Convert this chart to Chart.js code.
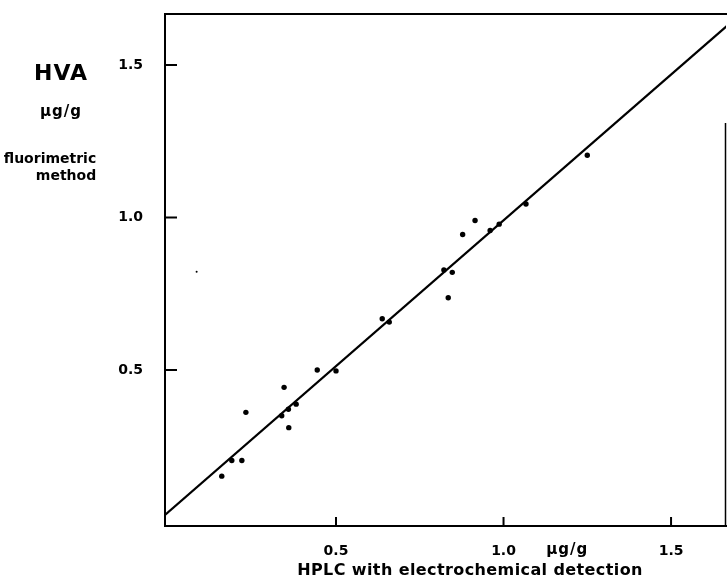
<!DOCTYPE html>
<html>
<head>
<meta charset="utf-8">
<script src="https://cdn.jsdelivr.net/npm/chart.js@4/dist/chart.umd.min.js"></script>
<style>
  html, body { margin: 0; padding: 0; background: #fff; }
  #wrap { width: 727px; height: 582px; }
</style>
</head>
<body>
<div id="wrap"><canvas id="chart" width="727" height="582"></canvas></div>
<script>
// HPLC (x) vs fluorimetric (y), HVA in µg/g
const hplcValues = [0.159, 0.189, 0.219, 0.231, 0.338, 0.345, 0.358, 0.359, 0.381, 0.444, 0.500,
                    0.638, 0.659, 0.835, 0.822, 0.847, 0.878, 0.915, 0.960, 0.987, 1.067, 1.250];
const fluoValues = [0.152, 0.203, 0.203, 0.361, 0.350, 0.443, 0.371, 0.311, 0.388, 0.500, 0.497,
                    0.668, 0.657, 0.737, 0.828, 0.820, 0.944, 0.990, 0.957, 0.978, 1.044, 1.204];
// small speck left of the cloud
const speckX = [0.084];
const speckY = [0.822];
// regression line ends
const lineX = [-0.0104, 1.67];
const lineY = [0.025, 1.631];

const xTicks = [0.5, 1.0, 1.5];
const yTicks = [0.5, 1.0, 1.5];
const xTickLabels = ['0.5', '1.0', '1.5'];
const yTickLabels = ['0.5', '1.0', '1.5'];

const xMin = -0.0104, xMax = 1.664;
const yMin = -0.0115, yMax = 1.667;

const font = 'DejaVu Sans';

// inward tick marks, top border, partial right border, side texts
const framePlugin = {
    id: 'frame',
    afterDraw(chart) {
        const c = chart.ctx;
        const x = chart.scales.x, y = chart.scales.y;
        const area = chart.chartArea;
        c.save();
        c.strokeStyle = '#000';
        c.lineWidth = 2;
        c.beginPath();
        xTicks.forEach(v => {
            const px = x.getPixelForValue(v);
            c.moveTo(px, area.bottom);
            c.lineTo(px, area.bottom - 9);
        });
        yTicks.forEach(v => {
            const py = y.getPixelForValue(v);
            c.moveTo(area.left, py);
            c.lineTo(area.left + 12, py);
        });
        // top border
        c.moveTo(area.left, area.top);
        c.lineTo(area.right + 1, area.top);
        c.stroke();
        // right border (only lower part visible in the scan)
        c.lineWidth = 1.5;
        c.beginPath();
        c.moveTo(area.right - 0.5, y.getPixelForValue(1.31));
        c.lineTo(area.right - 0.5, area.bottom);
        c.stroke();

        c.fillStyle = '#000';
        c.textAlign = 'center';
        c.textBaseline = 'middle';
        c.font = 'bold 22px "' + font + '"';
        c.letterSpacing = '1px';
        c.fillText('HVA', 61, 74);
        c.font = 'bold 15px "' + font + '"';
        c.fillText('µg/g', 61, 112);
        // unit next to the x tick labels
        c.fillText('µg/g', x.getPixelForValue(1.19), area.bottom + 24);
        c.letterSpacing = '0px';
        c.font = 'bold 14px "' + font + '"';
        c.fillText('fluorimetric', 50, 159);
        c.fillText('method', 66, 176);
        // x axis caption
        c.font = 'bold 16px "' + font + '"';
        c.letterSpacing = '0.4px';
        c.fillText('HPLC with electrochemical detection', 470, 571);
        c.restore();
    }
};

new Chart(document.getElementById('chart').getContext('2d'), {
    type: 'scatter',
    data: {
        datasets: [
            {
                label: 'samples',
                data: hplcValues.map((v, i) => ({ x: v, y: fluoValues[i] })),
                backgroundColor: '#000',
                borderColor: '#000',
                pointRadius: 2.7,
                pointHoverRadius: 2.7,
                borderWidth: 0
            },
            {
                label: 'speck',
                data: speckX.map((v, i) => ({ x: v, y: speckY[i] })),
                backgroundColor: '#000',
                pointRadius: 1,
                borderWidth: 0
            },
            {
                label: 'regression',
                type: 'line',
                data: lineX.map((v, i) => ({ x: v, y: lineY[i] })),
                borderColor: '#000',
                borderWidth: 2.2,
                pointRadius: 0,
                fill: false
            }
        ]
    },
    options: {
        responsive: false,
        animation: false,
        events: [],
        layout: { autoPadding: false, padding: { top: 14, right: 1, left: 0, bottom: 0 } },
        plugins: {
            legend: { display: false },
            tooltip: { enabled: false }
        },
        scales: {
            x: {
                type: 'linear',
                position: 'bottom',
                min: xMin,
                max: xMax,
                afterBuildTicks: s => { s.ticks = xTicks.map(v => ({ value: v })); },
                afterFit: s => { s.height = 56; s.paddingLeft = 0; s.paddingRight = 0; },
                grid: { display: false },
                border: { display: true, color: '#000', width: 2 },
                ticks: {
                    padding: 9,
                    color: '#000',
                    font: { family: font, size: 14, weight: 'bold' },
                    callback: (v, i) => xTickLabels[i]
                }
            },
            y: {
                type: 'linear',
                min: yMin,
                max: yMax,
                afterBuildTicks: s => { s.ticks = yTicks.map(v => ({ value: v })); },
                afterFit: s => { s.width = 165; s.paddingTop = 0; s.paddingBottom = 0; },
                grid: { display: false },
                border: { display: true, color: '#000', width: 2 },
                ticks: {
                    padding: 14,
                    color: '#000',
                    font: { family: font, size: 14, weight: 'bold' },
                    callback: (v, i) => yTickLabels[i]
                }
            }
        }
    },
    plugins: [framePlugin]
});
</script>
</body>
</html>
